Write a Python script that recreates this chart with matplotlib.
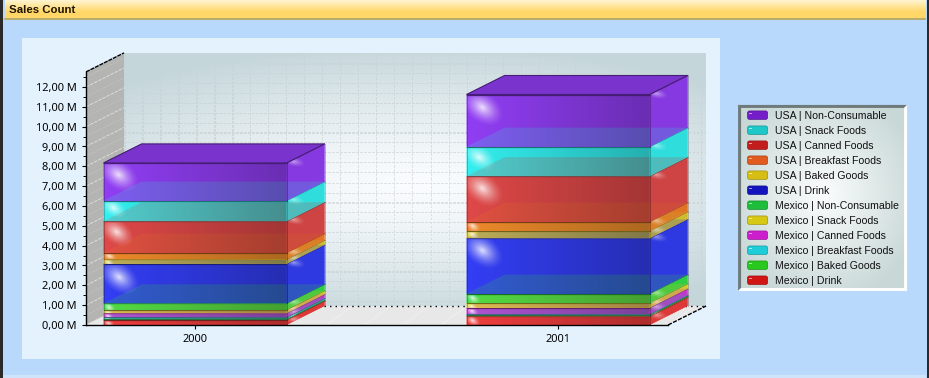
#!/usr/bin/env python3
# -*- coding: utf-8 -*-
import matplotlib
matplotlib.use('Agg')
import matplotlib.pyplot as plt
import numpy as np
from matplotlib.patches import Polygon, Rectangle, FancyBboxPatch

plt.rcParams['font.family'] = ['Noto Sans', 'DejaVu Sans']

#%% dados (milhoes), de baixo para cima na pilha
years = ['2000', '2001']
series = ['Mexico | Drink', 'Mexico | Baked Goods', 'Mexico | Breakfast Foods',
          'Mexico | Canned Foods', 'Mexico | Snack Foods', 'Mexico | Non-Consumable',
          'USA | Drink', 'USA | Baked Goods', 'USA | Breakfast Foods',
          'USA | Canned Foods', 'USA | Snack Foods', 'USA | Non-Consumable']
sales_2000 = [0.25, 0.04, 0.10, 0.20, 0.18, 0.32, 1.99, 0.23, 0.34, 1.58, 1.04, 1.90]
sales_2001 = [0.43, 0.06, 0.05, 0.33, 0.25, 0.46, 2.79, 0.38, 0.46, 2.29, 1.49, 2.63]
colors = ['#e63c3c', '#3ca03c', '#32aaaa', '#c83cd7', '#dcd232', '#32d746',
          '#323ceb', '#d7c332', '#eb7828', '#d74646', '#32e6e6', '#8c3ceb']
legend_colors = ['#d21414', '#28c81e', '#1ecdd7', '#cd1ecd', '#d7c814', '#1ebe3c',
                 '#1414be', '#d7be14', '#e15a1e', '#c31e1e', '#1ec8c8', '#731ec8']
y_ticks = list(range(13))
y_labels = ['%d,00 M' % v for v in y_ticks]

W, H = 929, 378
PX_M = 19.83   # pixels por milhao
PX_CAT = 363.  # pixels entre categorias
DX, DY = 38 / PX_CAT, 19 / PX_M  # profundidade 3D
BAR_W = 183 / PX_CAT

fig = plt.figure(figsize=((W + .1) / 100, (H + .1) / 100), dpi=100)
bg = fig.add_axes([0, 0, 1, 1])
bg.set_xlim(0, W)
bg.set_ylim(H, 0)
bg.axis('off')

def rgb(c):
    return np.array(matplotlib.colors.to_rgb(c))

def band(x0, x1, y0, y1, fun, n=128, z=1):
    # imagem de gradiente no eixo de fundo
    yy, xx = np.mgrid[0:1:n * 1j, 0:1:n * 1j]
    bg.imshow(fun(xx, yy), extent=(x0, x1, y1, y0), aspect='auto', zorder=z,
              interpolation='bilinear')

#%% janela
bg.add_patch(Rectangle((0, 0), W, H, fc='#b9d9fc', ec='none', zorder=0))
bg.add_patch(Rectangle((0, 0), 2.5, H, fc='#2a2a2a', ec='none', zorder=5))
bg.add_patch(Rectangle((W - 2.5, 0), 2.5, H, fc='#2a2a2a', ec='none', zorder=5))
bg.add_patch(Rectangle((3, 375.5), W - 6, 2.5, fc='#cfe4fb', ec='none', zorder=2))
def title_grad(xx, yy):
    a, b = rgb('#fff8dc'), rgb('#ffd768')
    t = np.clip(yy * 1.5, 0, 1)[..., None]
    return a * (1 - t) + b * t
band(5, W - 4, 0, 18.5, title_grad)
bg.plot([5, W - 4], [19, 19], color='#b9a350', lw=1.2, zorder=2)
bg.text(9, 9.5, 'Sales Count', fontsize=8.2, fontweight='bold', color='#1e1400',
        family='Liberation Sans', va='center', ha='left', zorder=6)
bg.add_patch(Rectangle((22, 38), 698, 321, fc='#e4f2fe', ec='none', zorder=1))

#%% parede de fundo
def wall(xx, yy):
    r = np.sqrt(((xx - 0.5) / 0.72) ** 2 + ((yy - 0.52) / 0.55) ** 2)
    t = np.clip(r, 0, 1)[..., None] ** 1.3
    img = np.array([0.98, 0.99, 1.0]) * (1 - t) + rgb('#c5d6da') * t
    px = xx * 581
    py = yy * 252
    dash_x = ((py % 4) < 2.6) & ((px % 18) < 1.2)
    dash_y = ((px % 4) < 2.6) & ((py % 9.9) < 1.2)
    fade = (1 - np.clip(r, 0, 1) ** 3)[..., None] * 0.22
    return img * (1 - fade * (dash_x | dash_y)[..., None]) + 0.55 * fade * (dash_x | dash_y)[..., None]
yy_, xx_ = np.mgrid[0:1:252j, 0:1:581j]
bg.imshow(wall(xx_, yy_), extent=(124, 705, 306, 54), aspect='auto', zorder=2,
          interpolation='nearest')
bg.set_xlim(0, W)
bg.set_ylim(H, 0)

# chao e parede esquerda
bg.add_patch(Polygon([(86, 325), (124, 306), (705, 306), (667, 325)], fc='#e8e8e8', ec='none', zorder=2))
bg.add_patch(Polygon([(86, 325), (124, 306), (124, 54), (86, 72)], fc='#b4b4b2', ec='none', zorder=2))
for x in np.arange(100, 700, 38):
    bg.plot([x, x + 22], [324, 308], color='#f2f2f2', lw=0.5, zorder=2)
bg.plot([124, 705], [306.5, 306.5], color='black', lw=1, ls=(0, (1, 3)), zorder=3)
bg.plot([668, 706], [325, 306], color='black', lw=1, ls=(0, (3, 1)), zorder=3)

#%% eixo principal
ax = fig.add_axes([86 / W, 1 - 325 / H, 582 / W, 253 / H])
ax.patch.set_visible(False)
xlim = ((86 - 195) / PX_CAT, (668 - 195) / PX_CAT)
ylim = (0, 253 / PX_M)

for v in y_ticks:
    ax.plot([xlim[0], xlim[0] + DX], [v, v + DY], color='#e4e4e2', lw=0.6,
            ls=(0, (4, 1.5)), clip_on=False, zorder=1)
    ax.plot([xlim[0], xlim[0] + DX], [v + .5, v + .5 + DY], color='#c4c4c2', lw=0.5,
            ls=(0, (4, 1.5)), clip_on=False, zorder=1)
ax.plot([xlim[0], xlim[0] + DX], [ylim[1], ylim[1] + DY], color='black', lw=1,
        ls=(0, (3, 0.6)), clip_on=False, zorder=1)

def glow(cx, cy, rx, ry, clip, strength, z):
    n = 48
    yy, xx = np.mgrid[-1:1:n * 1j, -1:1:n * 1j]
    u = xx * 0.8 + yy * 0.6
    v = -xx * 0.6 + yy * 0.8
    r = np.sqrt((u / 1.0) ** 2 + (v / 0.65) ** 2)
    img = np.ones((n, n, 4))
    img[..., 3] = strength * np.clip(1 - r, 0, 1) ** 1.5
    im = ax.imshow(img, extent=(cx - rx, cx + rx, cy - ry, cy + ry), aspect='auto',
                   zorder=z, clip_on=True, interpolation='bilinear')
    im.set_clip_path(clip)

def stacked_bar(pos, values):
    x0 = pos - BAR_W / 2
    x1 = pos + BAR_W / 2
    base = 0.
    z = 3.
    prev_cap = None
    for val, col in zip(values, colors):
        top = base + val
        c = rgb(col)
        dark = c * 0.5
        # miolo opaco
        ax.add_patch(Polygon([(x0, base), (x1, base), (x1 + DX, base + DY), (x1 + DX, top + DY),
                              (x0 + DX, top + DY), (x0, top)], fc=c, ec='none', zorder=z,
                             clip_on=False))
        z += .1
        if prev_cap is not None:
            ax.add_patch(Polygon(prev_cap[0], fc=prev_cap[1], ec='none', zorder=z, clip_on=False))
            z += .1
        # face frontal com gradiente
        grad = np.zeros((2, 64, 4))
        shade = np.linspace(1.05, 0.70, 64)[None, :, None]
        grad[..., :3] = np.clip(c * shade, 0, 1)
        grad[..., 3] = 0.8
        ax.imshow(grad, extent=(x0, x1, base, top), aspect='auto', zorder=z, interpolation='bilinear')
        z += .1
        face = Rectangle((x0, base), x1 - x0, top - base, transform=ax.transData)
        k = min(1.0, val / 2.0)
        glow(x0 + 15 / PX_CAT * (0.2 + k * .8), top - 13 / PX_M * (0.15 + k * .85),
             24 / PX_CAT * (0.2 + k * .8), 24 / PX_M * (0.15 + k * .85),
             face, 0.85, z)
        z += .1
        # face lateral
        side = Polygon([(x1, base), (x1 + DX, base + DY), (x1 + DX, top + DY), (x1, top)],
                       fc=c * 0.95, ec='none', alpha=0.8, zorder=z, clip_on=False)
        ax.add_patch(side)
        z += .1
        side_clip = Polygon([(x1, base), (x1 + DX, base + DY), (x1 + DX, top + DY), (x1, top)],
                            transform=ax.transData)
        glow(x1 + 6 / PX_CAT, top + 1 / PX_M, 14 / PX_CAT, 7 / PX_M, side_clip, 0.5, z)
        z += .1
        # contornos
        ax.plot([x0, x1], [top, top], color=dark, lw=0.9, zorder=z, clip_on=False)
        ax.plot([x1, x1 + DX], [top, top + DY], color=dark, lw=0.7, zorder=z, clip_on=False)
        ax.plot([x1, x1], [base, top], color=dark, lw=0.6, alpha=.6, zorder=z, clip_on=False)
        ax.plot([x0, x0], [base, top], color=dark, lw=0.6, alpha=.5, zorder=z, clip_on=False)
        ax.plot([x1 + DX, x1 + DX], [base + DY, top + DY], color=dark, lw=0.5, alpha=.5, zorder=z, clip_on=False)
        z += .1
        prev_cap = ([(x0, top), (x1, top), (x1 + DX, top + DY), (x0 + DX, top + DY)], c * 0.95)
        base = top
    # tampa do topo
    ax.add_patch(Polygon(prev_cap[0], fc=prev_cap[1] * 0.92, ec=dark, lw=0.8, zorder=z, clip_on=False))

stacked_bar(0, sales_2000)
stacked_bar(1, sales_2001)

ax.set_xlim(*xlim)
ax.set_ylim(*ylim)
ax.set_xticks([0, 1])
ax.set_xticklabels(years)
ax.set_yticks(y_ticks)
ax.set_yticklabels(y_labels)
ax.set_yticks(np.arange(0.5, 12.6, 1), minor=True)
ax.tick_params(axis='both', which='major', length=3.2, width=0.8, labelsize=7.9, pad=3.5)
ax.tick_params(axis='y', which='minor', length=2, width=0.7)
for s in ['top', 'right']:
    ax.spines[s].set_visible(False)
for s in ['left', 'bottom']:
    ax.spines[s].set_linewidth(1.0)
    ax.spines[s].set_zorder(20)

#%% legenda
lg = fig.add_axes([0, 0, 1, 1], zorder=10)
lg.set_xlim(0, W)
lg.set_ylim(H, 0)
lg.axis('off')
def legend_bg():
    yy, xx = np.mgrid[0:1:64j, 0:1:64j]
    r = np.sqrt(((xx - 0.5) / 0.62) ** 2 + ((yy - 0.48) / 0.62) ** 2)
    t = np.clip(r, 0, 1)[..., None]
    return rgb('#fbfdfd') * (1 - t) + rgb('#c8d8d6') * t
lg.imshow(legend_bg(), extent=(741, 904, 288, 108), aspect='auto', zorder=1, interpolation='bilinear')
lg.set_xlim(0, W)
lg.set_ylim(H, 0)
lg.add_patch(Polygon([(738, 105), (907, 105), (904, 108), (741, 108), (741, 288), (738, 291)],
                     fc='#6f7a7a', ec='none', zorder=2))
lg.add_patch(Polygon([(907, 105), (907, 291), (738, 291), (741, 288), (904, 288), (904, 108)],
                     fc='white', ec='none', zorder=2))
for i, (name, col) in enumerate(zip(series[::-1], legend_colors[::-1])):
    y = 115 + i * 15
    c = rgb(col)
    lg.add_patch(FancyBboxPatch((748.5, y - 3), 18, 6.5, boxstyle='round,pad=1,rounding_size=2',
                                fc=c, ec=c * 0.75, lw=0.5, zorder=3))
    lg.plot([749, 750.5], [y - 2, y - 2], color='white', lw=0.7, alpha=.6, zorder=4)
    lg.text(775, y + 0.5, name, fontsize=7.55, family='Liberation Sans', color='#101010',
            va='center', ha='left', zorder=4)

fig.savefig('out.png', dpi=100)
